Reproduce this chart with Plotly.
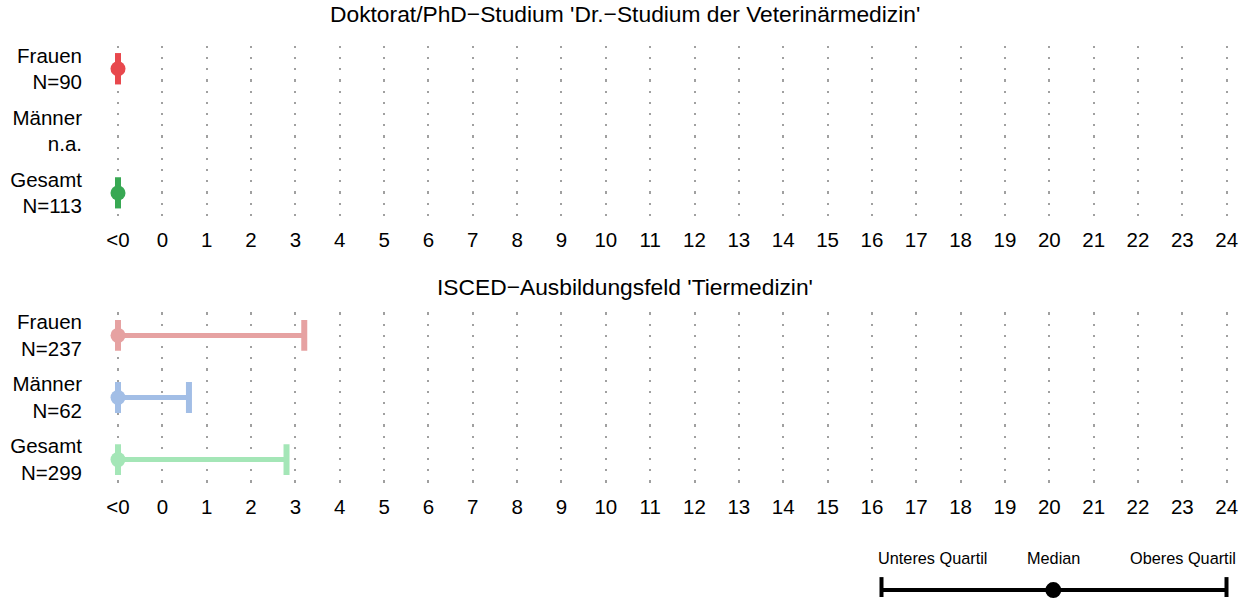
import plotly.graph_objects as go

# ---- data ----
tick_vals = list(range(-1, 25))
tick_text = ["<0"] + [str(i) for i in range(0, 25)]

panel_titles = ["Doktorat/PhD\u2212Studium 'Dr.\u2212Studium der Veterinärmedizin'",
                "ISCED\u2212Ausbildungsfeld 'Tiermedizin'"]

groups = ["Frauen", "Männer", "Gesamt"]

p1_n = ["N=90", "n.a.", "N=113"]
p1_q1 = [-1, None, -1]
p1_med = [-1, None, -1]
p1_q3 = [-1, None, -1]
p1_colors = ["#E8484D", "#E8484D", "#38A853"]

p2_n = ["N=237", "N=62", "N=299"]
p2_q1 = [-1, -1, -1]
p2_med = [-1, -1, -1]
p2_q3 = [3.2, 0.6, 2.8]
p2_colors = ["#E6A2A2", "#A2BEE6", "#A4E6B7"]

legend_labels = ["Unteres Quartil", "Median", "Oberes Quartil"]

FONT = "Liberation Sans, Arial, sans-serif"
W, H = 1250, 598


def px(x):   # reference x pixel -> paper
    return x / W


def py(y):   # reference y pixel -> paper
    return 1 - y / H


fig = go.Figure()


def add_panel(q1, med, q3, colors, xa, ya):
    for i in range(len(groups)):
        if med[i] is None:
            continue
        c = colors[i]
        fig.add_trace(go.Scatter(x=[q1[i], q3[i]], y=[i, i], mode="lines",
                                 line=dict(color=c, width=5), xaxis=xa, yaxis=ya,
                                 showlegend=False, hoverinfo="skip"))
        fig.add_trace(go.Scatter(x=[q1[i], q3[i]], y=[i, i], mode="markers",
                                 marker=dict(symbol="line-ns", size=22,
                                             line=dict(color=c, width=6)),
                                 xaxis=xa, yaxis=ya, showlegend=False, hoverinfo="skip"))
        fig.add_trace(go.Scatter(x=[med[i]], y=[i], mode="markers",
                                 marker=dict(symbol="circle", size=15, color=c),
                                 xaxis=xa, yaxis=ya, showlegend=False, hoverinfo="skip"))


add_panel(p1_q1, p1_med, p1_q3, p1_colors, "x", "y")
add_panel(p2_q1, p2_med, p2_q3, p2_colors, "x2", "y2")

x0_px, x1_px = 100, 1240
xdom = [px(x0_px), px(x1_px)]
ppu = 44.35
xr = [-1 - (118 - x0_px) / ppu, 24 + (x1_px - 1226.7) / ppu]

common_x = dict(range=xr, domain=xdom, tickmode="array", tickvals=tick_vals,
                ticktext=tick_text, showgrid=True, gridcolor="#A0A0A0", gridwidth=2.2,
                griddash="2.2px,9px", zeroline=False, showline=False, ticks="",
                tickfont=dict(family=FONT, size=20.5, color="black"), ticklabelstandoff=10,
                fixedrange=True)
common_y = dict(range=[2.37, -0.37], tickmode="array", tickvals=[0, 1, 2],
                showgrid=False, zeroline=False, showline=False, ticks="",
                tickfont=dict(family=FONT, size=20.5, color="black"), fixedrange=True,
                ticklabelstandoff=17)

fig.update_layout(
    xaxis=dict(common_x, anchor="y"),
    yaxis=dict(common_y, domain=[py(215), py(44)], anchor="x",
               ticktext=[f"{g}<br>{n}" for g, n in zip(groups, p1_n)]),
    xaxis2=dict(common_x, anchor="y2"),
    yaxis2=dict(common_y, domain=[py(483), py(312)], anchor="x2",
                ticktext=[f"{g}<br>{n}" for g, n in zip(groups, p2_n)]),
)

annotations = []
for t, ypx in zip(panel_titles, [12, 286]):
    annotations.append(dict(text=t, x=px(625), y=py(ypx), xref="paper", yref="paper",
                            xanchor="center", yanchor="middle", showarrow=False,
                            font=dict(family=FONT, size=22.8, color="black")))

# legend key (guide) at bottom right
leg_x = [933, 1053, 1183]
for lab, lx in zip(legend_labels, leg_x):
    annotations.append(dict(text=lab, x=px(lx), y=py(559), xref="paper", yref="paper",
                            xanchor="center", yanchor="middle", showarrow=False,
                            font=dict(family=FONT, size=16.3, color="black")))

shapes = [
    dict(type="line", xref="paper", yref="paper", x0=px(881.5), x1=px(1226.5),
         y0=py(591), y1=py(591), line=dict(color="black", width=4)),
    dict(type="line", xref="paper", yref="paper", x0=px(881.5), x1=px(881.5),
         y0=py(578), y1=0, line=dict(color="black", width=4)),
    dict(type="line", xref="paper", yref="paper", x0=px(1226.5), x1=px(1226.5),
         y0=py(578), y1=0, line=dict(color="black", width=4)),
    dict(type="circle", xref="paper", yref="paper", x0=px(1053.3 - 8), x1=px(1053.3 + 8),
         y0=py(591 + 8), y1=py(591 - 8), fillcolor="black",
         line=dict(color="black", width=0)),
]

fig.update_layout(width=W, height=H, autosize=False,
                  margin=dict(l=0, r=0, t=0, b=0),
                  paper_bgcolor="white", plot_bgcolor="white",
                  annotations=annotations, shapes=shapes,
                  font=dict(family=FONT, color="black"))

fig.write_html("out.html", config={"displayModeBar": False}, post_script=(
    "document.documentElement.style.overflow='hidden';"
    "document.body.style.margin='0';document.body.style.padding='0';"
    "document.body.style.overflow='hidden';"))
